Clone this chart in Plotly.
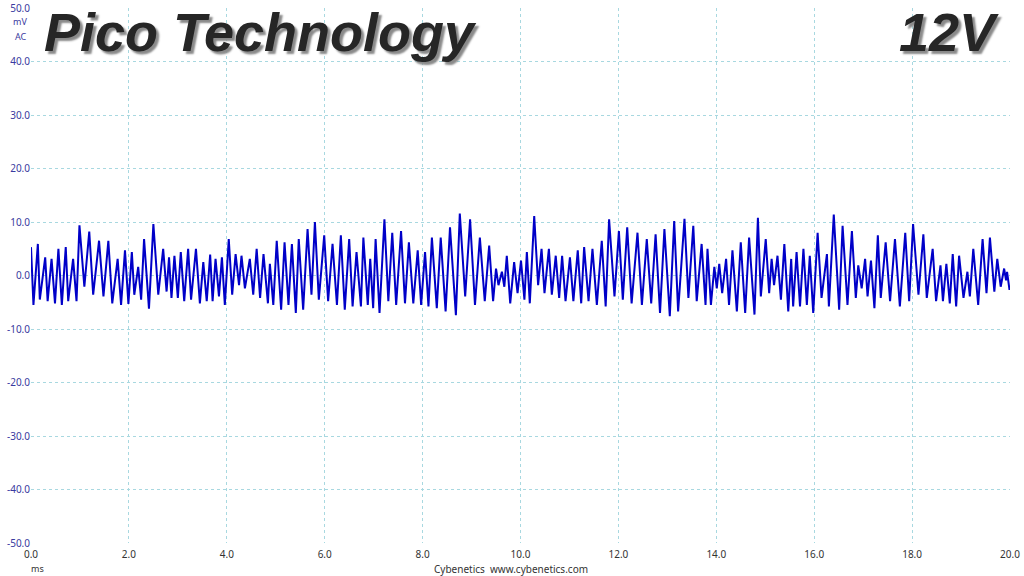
import plotly.graph_objects as go

# Waveform extrema (time in ms, ripple in mV)
t_seg1 = [0.00,0.05,0.14,0.18,0.29,0.34,0.42,0.49,0.56,0.63,0.71,0.76,0.86,0.93,0.99,1.09,1.19,1.27,1.39,1.48,1.58,1.66,1.77,1.84,1.92,1.99]
v_seg1 = [5.3,-5.5,5.9,-4.5,3.4,-4.8,3.1,-5.2,5.0,-5.5,5.3,-4.8,3.1,-4.8,9.4,-2.1,8.2,-3.6,6.5,-3.9,6.5,-5.2,3.1,-5.5,4.7,-5.3]
t_seg2 = [2.06,2.11,2.19,2.25,2.31,2.41,2.50,2.60,2.70,2.77,2.82,2.87,2.93,3.00,3.06,3.13,3.21,3.27,3.37,3.45,3.52,3.59,3.66,3.71,3.77,3.84,3.90,3.96]
v_seg2 = [4.4,-3.6,1.6,-4.5,6.8,-6.2,9.6,-3.6,5.0,-3.0,3.4,-4.2,3.7,-4.2,4.4,-4.8,5.0,-4.5,5.0,-5.2,2.5,-4.8,3.9,-4.8,3.1,-3.9,3.4,-5.5]
t_seg3 = [4.04,4.11,4.18,4.25,4.30,4.37,4.47,4.54,4.61,4.68,4.75,4.84,4.88,4.95,5.02,5.11,5.18,5.26,5.33,5.41,5.47,5.56,5.65,5.73,5.80,5.88,5.99,6.07]
v_seg3 = [6.8,-3.6,4.0,-1.8,3.7,-2.4,3.1,-3.6,5.0,-4.2,4.0,-5.2,2.2,-5.5,6.5,-6.4,6.2,-5.5,5.9,-7.0,6.8,-6.4,8.7,-3.6,10.0,-4.5,7.5,-4.8]
t_seg4 = [6.16,6.25,6.33,6.41,6.50,6.57,6.65,6.74,6.79,6.88,6.93,6.99,7.04,7.12,7.22,7.30,7.38,7.46,7.56,7.64,7.72,7.81,7.90,7.97,8.05]
v_seg4 = [5.9,-5.5,7.5,-6.4,6.8,-5.8,4.4,-5.8,7.1,-5.5,3.1,-6.1,6.8,-7.0,10.5,-4.8,8.0,-5.5,8.3,-5.2,6.2,-5.2,4.7,-5.5,4.4]
t_seg5 = [8.12,8.19,8.29,8.37,8.47,8.56,8.68,8.76,8.87,8.97,9.07,9.17,9.27,9.36,9.44,9.50,9.55,9.62,9.67,9.72,9.79,9.87,9.94,10.01,10.08,10.13]
v_seg5 = [-5.8,7.1,-6.1,7.1,-6.7,9.0,-7.4,11.6,-3.9,10.5,-5.5,7.1,-4.8,5.6,-4.8,1.3,-1.8,0.7,-2.1,3.7,-5.2,2.5,-3.3,2.8,-4.5,4.4]
t_seg6 = [10.19,10.28,10.36,10.43,10.49,10.58,10.64,10.72,10.79,10.85,10.92,11.01,11.08,11.17,11.24,11.30,11.39,11.47,11.56,11.66,11.74,11.81,11.92,12.01,12.09,12.18]
v_seg6 = [-5.2,11.1,-1.8,5.0,-3.3,5.0,-3.6,3.7,-4.2,3.7,-4.8,3.4,-4.8,4.7,-5.2,5.3,-4.8,5.0,-5.5,6.5,-5.8,10.5,-3.9,8.3,-4.5,9.0]
t_seg7 = [12.27,12.39,12.48,12.58,12.67,12.76,12.85,12.94,13.05,13.14,13.22,13.35,13.43,13.53,13.60,13.70,13.78,13.82,13.89,13.96,14.01,14.06,14.12,14.20]
v_seg7 = [-5.2,8.0,-5.5,6.8,-5.2,7.7,-7.0,8.7,-7.6,10.2,-6.7,10.6,-4.2,9.3,-4.8,5.9,-5.5,5.0,-5.5,1.6,-2.4,2.2,-3.3,3.1]
t_seg8 = [14.26,14.33,14.42,14.50,14.59,14.67,14.78,14.85,14.91,15.01,15.08,15.13,15.18,15.25,15.32,15.39,15.47,15.53,15.57,15.64,15.71,15.78,15.85,15.91,15.98,16.07,16.15,16.26]
v_seg8 = [-5.5,4.7,-6.7,6.2,-7.0,7.1,-7.3,10.8,-3.9,6.8,-3.3,3.1,-1.8,3.7,-4.5,5.9,-6.7,3.1,-5.8,4.4,-5.8,5.0,-5.5,3.7,-7.0,8.0,-4.2,4.0]
t_seg9 = [16.30,16.40,16.51,16.58,16.68,16.77,16.85,16.90,16.97,17.04,17.09,17.16,17.23,17.30,17.36,17.46,17.55,17.65,17.75,17.86,17.94,18.02,18.13]
v_seg9 = [-5.8,11.4,-6.4,9.3,-5.5,8.3,-4.2,1.9,-2.4,3.1,-3.9,2.8,-6.1,7.5,-4.2,6.2,-4.8,6.8,-5.8,8.0,-4.8,9.6,-3.6]
t_seg10 = [18.23,18.30,18.42,18.49,18.58,18.63,18.70,18.77,18.83,18.90,18.96,19.05,19.13,19.18,19.25,19.35,19.44,19.52,19.59,19.68,19.74,19.81,19.88,19.92,19.94,19.99]
v_seg10 = [7.7,-4.2,5.0,-4.8,1.9,-4.8,2.2,-5.2,4.0,-5.8,3.7,-4.2,0.7,-3.9,5.0,-5.5,6.8,-3.3,7.1,-3.0,3.1,-2.1,1.3,-0.9,0.7,-2.7]

x_ticks = [0, 2, 4, 6, 8, 10, 12, 14, 16, 18, 20]
x_tick_text = ["0.0", "2.0", "4.0", "6.0", "8.0", "10.0", "12.0", "14.0", "16.0", "18.0", "20.0"]
y_ticks = [50, 40, 30, 20, 10, 0, -10, -20, -30, -40, -50]
y_tick_text = ["50.0", "40.0", "30.0", "20.0", "10.0", "0.0", "-10.0", "-20.0", "-30.0", "-40.0", "-50.0"]

t_all = t_seg1 + t_seg2 + t_seg3 + t_seg4 + t_seg5 + t_seg6 + t_seg7 + t_seg8 + t_seg9 + t_seg10
v_all = v_seg1 + v_seg2 + v_seg3 + v_seg4 + v_seg5 + v_seg6 + v_seg7 + v_seg8 + v_seg9 + v_seg10

grid_col = "#a8d8e0"
fig = go.Figure()
fig.add_trace(go.Scatter(x=t_all, y=v_all, mode="lines",
                         line=dict(color="#0000c8", width=2.0),
                         hoverinfo="skip", showlegend=False))

fig.update_layout(
    width=1024, height=576,
    margin=dict(l=31, r=14, t=8, b=33),
    paper_bgcolor="white", plot_bgcolor="white",
    font=dict(family="Noto Sans, Open Sans, sans-serif"),
)
fig.update_xaxes(range=[0, 20], tickvals=x_ticks, ticktext=x_tick_text,
                 showgrid=True, gridcolor=grid_col, griddash="3px,3px", gridwidth=1,
                 zeroline=False, showline=False, ticks="", ticklabelstandoff=4,
                 tickfont=dict(size=10, color="#333333"), automargin=False)
fig.update_yaxes(range=[-50, 50], tickvals=y_ticks, ticktext=y_tick_text,
                 showgrid=True, gridcolor=grid_col, griddash="3px,3px", gridwidth=1,
                 zeroline=False, showline=False, ticks="",
                 tickfont=dict(size=10, color="#3a3aa0"), automargin=False)

# axis unit labels
fig.add_annotation(xref="paper", yref="paper", x=-0.002, y=0.974, text="mV", showarrow=False,
                   xanchor="right", yanchor="middle", font=dict(size=9, color="#3a3aa0"))
fig.add_annotation(xref="paper", yref="paper", x=-0.002, y=0.946, text="AC", showarrow=False,
                   xanchor="right", yanchor="middle", font=dict(size=9, color="#3a3aa0"))
fig.add_annotation(xref="paper", yref="paper", x=0.007, y=-0.048, text="ms", showarrow=False,
                   xanchor="center", yanchor="middle", font=dict(size=9, color="#333333"))
fig.add_annotation(xref="paper", yref="paper", x=0.49, y=-0.048,
                   text="Cybenetics  www.cybenetics.com", showarrow=False,
                   xanchor="center", yanchor="middle", font=dict(size=10, color="#333333"))

# Big titles with a grey text shadow
title_font = "Liberation Sans, Arial, sans-serif"
for txt, xpos, anchor, dx in [("Pico Technology", 0.015, "left", -4), ("12V", 0.985, "right", 6)]:
    fig.add_annotation(xref="paper", yref="paper", x=xpos, y=1.0, text="<b><i>%s</i></b>" % txt,
                       showarrow=False, xanchor=anchor, yanchor="top", xshift=dx, yshift=8,
                       font=dict(family=title_font, size=54, color="#262626",
                                 shadow="3px 3px 2px #8a8a8a"))

fig.write_html("out.html", config={"displayModeBar": False},
               post_script="document.body.style.margin='0';document.body.style.overflow='hidden';")
